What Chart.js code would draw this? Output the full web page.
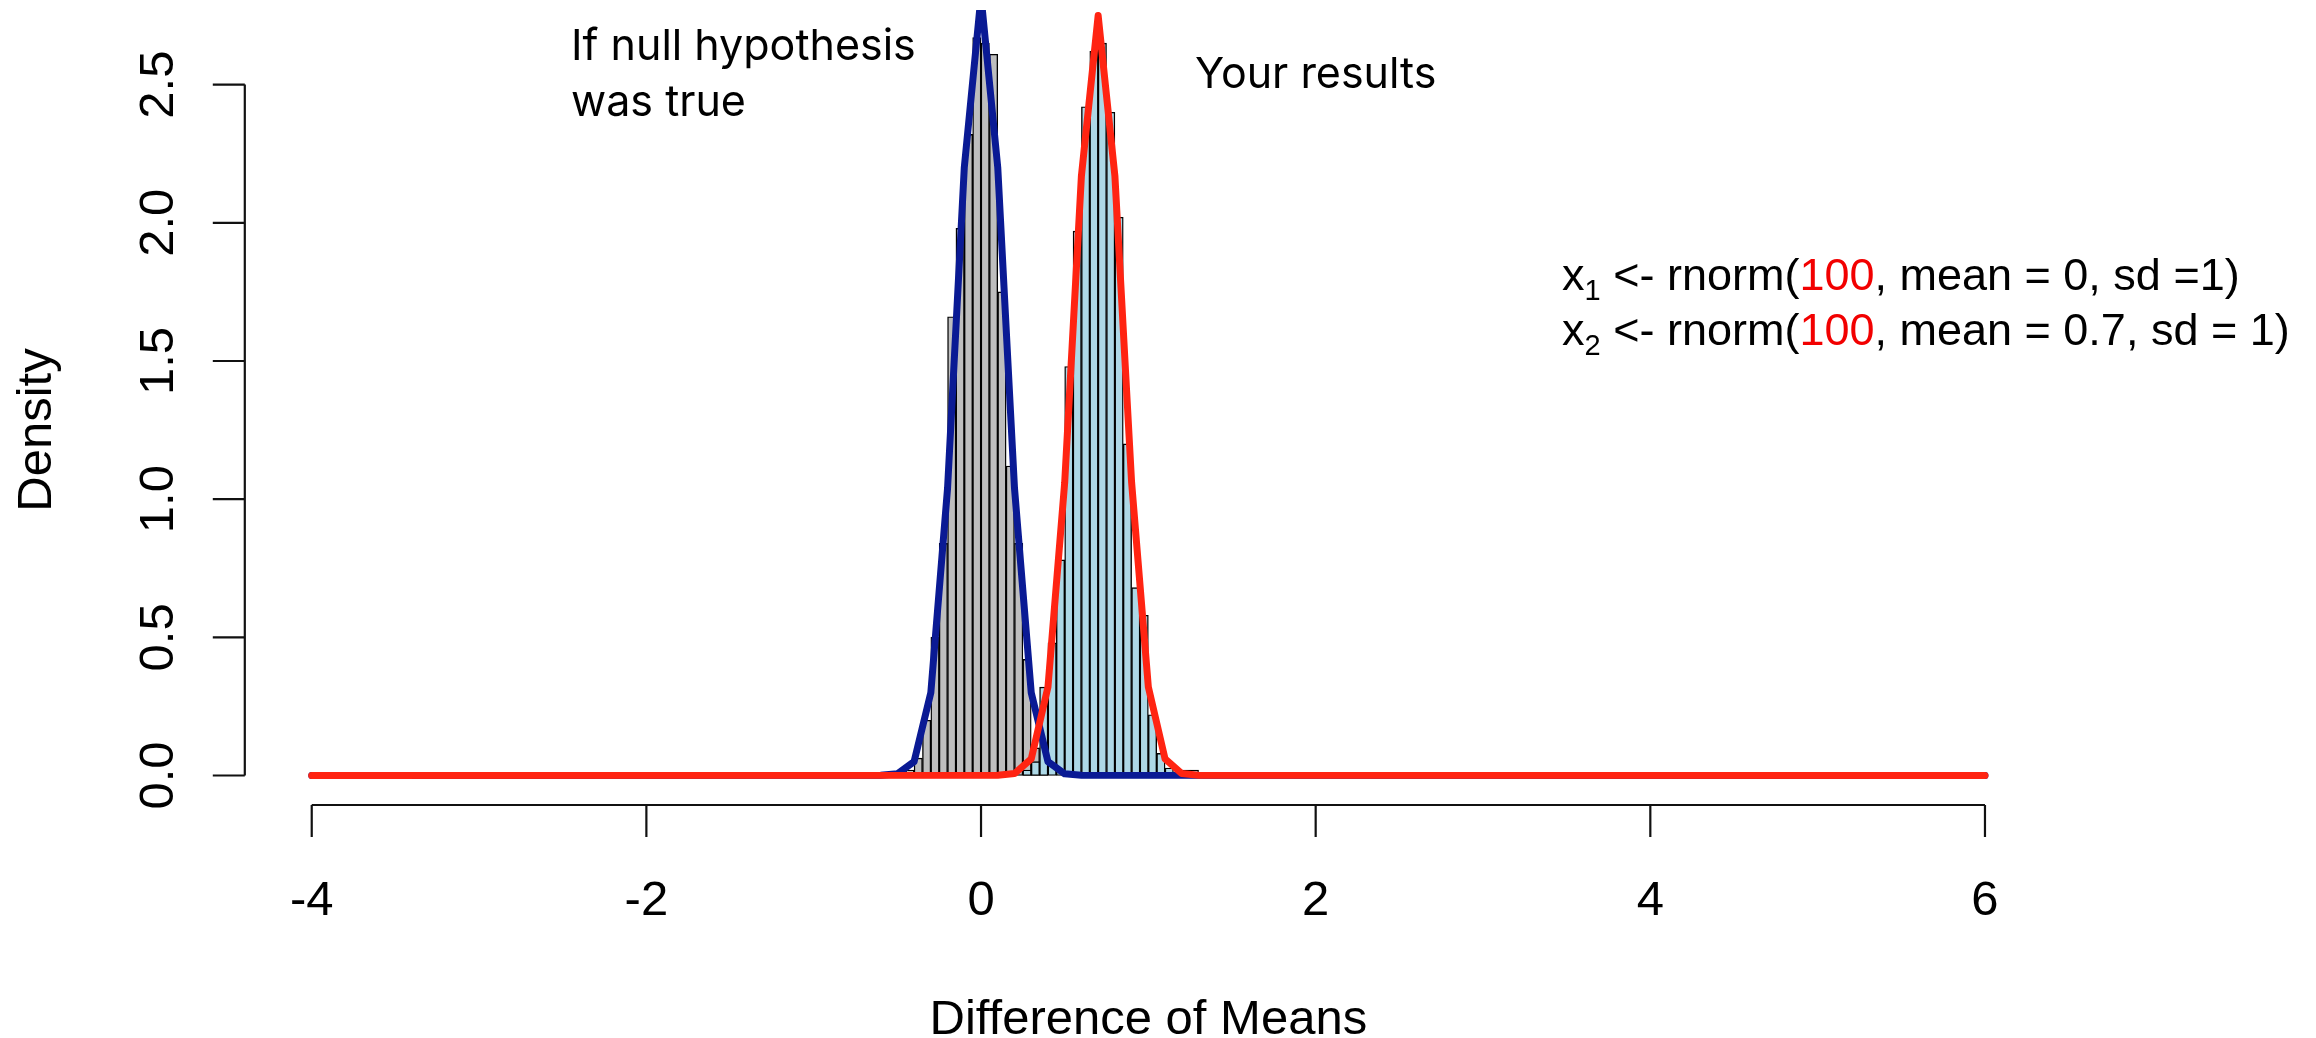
<!DOCTYPE html>
<html>
<head>
<meta charset="utf-8">
<script src="https://cdn.jsdelivr.net/npm/chart.js@4.4.0/dist/chart.umd.min.js"></script>
<style>
  html, body { margin: 0; padding: 0; background: #fff; }
  canvas { display: block; }
</style>
</head>
<body>
<canvas id="chart" width="2316" height="1038"></canvas>
<script>
// --- histogram of simulated differences (bin width 0.05, density scale) ---
const nullMids = [-0.475, -0.425, -0.375, -0.325, -0.275, -0.225, -0.175, -0.125, -0.075, -0.025,
  0.025, 0.075, 0.125, 0.175, 0.225, 0.275, 0.325, 0.375];
const nullDensity = [0.007, 0.02, 0.063, 0.20, 0.50, 0.84, 1.66, 1.98, 2.32, 2.67,
  2.65, 2.61, 1.75, 1.12, 0.84, 0.42, 0.10, 0.02];

const altMids = [0.275, 0.325, 0.375, 0.425, 0.475, 0.525, 0.575, 0.625, 0.675, 0.725,
  0.775, 0.825, 0.875, 0.925, 0.975, 1.025, 1.075, 1.125, 1.175, 1.225, 1.275];
const altDensity = [0.02, 0.05, 0.32, 0.48, 0.78, 1.48, 1.97, 2.42, 2.62, 2.65,
  2.40, 2.02, 1.20, 0.68, 0.58, 0.22, 0.08, 0.027, 0.01, 0.02, 0.02];

// --- fitted density curves ---
const nullCurveX = [-4, -0.6, -0.5, -0.4, -0.3, -0.2, -0.1, 0, 0.1, 0.2, 0.3, 0.4, 0.5, 0.6, 6];
const nullCurveY = [0, 0.001, 0.006, 0.05, 0.30, 1.04, 2.20, 2.82, 2.20, 1.04, 0.30, 0.05, 0.006, 0.001, 0];

const altCurveX = [-4, 0.1, 0.2, 0.3, 0.4, 0.5, 0.6, 0.7, 0.8, 0.9, 1.0, 1.1, 1.2, 1.3, 6];
const altCurveY = [0, 0.001, 0.007, 0.06, 0.32, 1.06, 2.17, 2.75, 2.17, 1.06, 0.32, 0.06, 0.007, 0.001, 0];

// --- axes ---
const xTicks = [-4, -2, 0, 2, 4, 6];
const yTicks = [0, 0.5, 1, 1.5, 2, 2.5];
const yTickLabels = ['0.0', '0.5', '1.0', '1.5', '2.0', '2.5'];

const toPoints = (xs, ys) => xs.map((x, i) => ({ x, y: ys[i] }));

const AXIS_FONT = '49px "Liberation Sans", Arial, sans-serif';
const NOTE_FONT = '43px Inter, "Open Sans", sans-serif';
const CODE_FONT = '45px "Liberation Sans", Arial, sans-serif';
const CODE_SUB_FONT = '29px "Liberation Sans", Arial, sans-serif';

// draw a line of text made of coloured / subscript runs
function drawRuns(ctx, runs, x, y) {
  runs.forEach(r => {
    ctx.font = r.sub ? CODE_SUB_FONT : CODE_FONT;
    ctx.fillStyle = r.color || '#000';
    ctx.fillText(r.t, x, r.sub ? y + 10 : y);
    x += ctx.measureText(r.t).width;
  });
}

// R-style base graphics axes + annotations
const rAxes = {
  id: 'rAxes',
  afterDraw(chart) {
    const { ctx, chartArea } = chart;
    const xs = chart.scales.x, ys = chart.scales.y;
    const axisY = chartArea.bottom;
    const axisX = chartArea.left;
    ctx.save();
    ctx.strokeStyle = '#111';
    ctx.lineWidth = 2.2;
    ctx.lineCap = 'butt';

    // x axis
    ctx.beginPath();
    ctx.moveTo(xs.getPixelForValue(xTicks[0]), axisY);
    ctx.lineTo(xs.getPixelForValue(xTicks[xTicks.length - 1]), axisY);
    xTicks.forEach(t => {
      const px = xs.getPixelForValue(t);
      ctx.moveTo(px, axisY);
      ctx.lineTo(px, axisY + 32);
    });
    // y axis
    ctx.moveTo(axisX, ys.getPixelForValue(yTicks[0]));
    ctx.lineTo(axisX, ys.getPixelForValue(yTicks[yTicks.length - 1]));
    yTicks.forEach(t => {
      const py = ys.getPixelForValue(t);
      ctx.moveTo(axisX, py);
      ctx.lineTo(axisX - 32, py);
    });
    ctx.stroke();

    ctx.fillStyle = '#000';
    ctx.font = AXIS_FONT;
    ctx.textAlign = 'center';
    ctx.textBaseline = 'alphabetic';
    xTicks.forEach(t => ctx.fillText(String(t), xs.getPixelForValue(t), axisY + 110));
    ctx.fillText('Difference of Means', (xs.getPixelForValue(-4) + xs.getPixelForValue(6)) / 2, 1034);

    yTicks.forEach((t, i) => {
      ctx.save();
      ctx.translate(axisX - 72, ys.getPixelForValue(t));
      ctx.rotate(-Math.PI / 2);
      ctx.fillText(yTickLabels[i], 0, 0);
      ctx.restore();
    });
    ctx.save();
    ctx.translate(51, (ys.getPixelForValue(0) + ys.getPixelForValue(2.5)) / 2);
    ctx.rotate(-Math.PI / 2);
    ctx.fillText('Density', 0, 0);
    ctx.restore();

    // annotations
    ctx.textAlign = 'left';
    ctx.font = NOTE_FONT;
    ctx.fillText('If null hypothesis', 571, 60);
    ctx.fillText('was true', 571, 116);
    ctx.fillText('Your results', 1195, 88);

    drawRuns(ctx, [
      { t: 'x' }, { t: '1', sub: true }, { t: ' <- rnorm(' },
      { t: '100', color: '#f20000' }, { t: ', mean = 0, sd =1)' }
    ], 1562, 290);
    drawRuns(ctx, [
      { t: 'x' }, { t: '2', sub: true }, { t: ' <- rnorm(' },
      { t: '100', color: '#f20000' }, { t: ', mean = 0.7, sd = 1)' }
    ], 1562, 345);
    ctx.restore();
  }
};

const barStyle = {
  type: 'bar',
  grouped: false,
  barPercentage: 1,
  categoryPercentage: 1,
  borderColor: '#000',
  borderWidth: 1.4,
  borderSkipped: false
};
const lineStyle = {
  type: 'line',
  pointRadius: 0,
  borderWidth: 7,
  tension: 0,
  fill: false,
  clip: 0,
  borderCapStyle: 'round',
  borderJoinStyle: 'round'
};

new Chart(document.getElementById('chart'), {
  type: 'bar',
  data: {
    datasets: [
      { ...lineStyle, label: 'Alternative curve', data: toPoints(altCurveX, altCurveY), borderColor: '#ff2412', order: 0 },
      { ...lineStyle, label: 'Null curve', data: toPoints(nullCurveX, nullCurveY), borderColor: '#0a1a94', order: 1 },
      { ...barStyle, label: 'Your results', data: toPoints(altMids, altDensity), backgroundColor: '#add8e6', order: 2 },
      { ...barStyle, label: 'Null', data: toPoints(nullMids, nullDensity), backgroundColor: '#bebebe', order: 3 }
    ]
  },
  options: {
    responsive: false,
    animation: false,
    devicePixelRatio: 1,
    events: [],
    layout: { padding: { left: 244.8, right: 264.1, top: 10, bottom: 233 } },
    plugins: { legend: { display: false }, tooltip: { enabled: false } },
    scales: {
      x: { type: 'linear', min: -4.4, max: 6.4, offset: false, display: false },
      y: { type: 'linear', min: -0.1067, max: 2.77, display: false }
    }
  },
  plugins: [rAxes]
});
</script>
</body>
</html>
